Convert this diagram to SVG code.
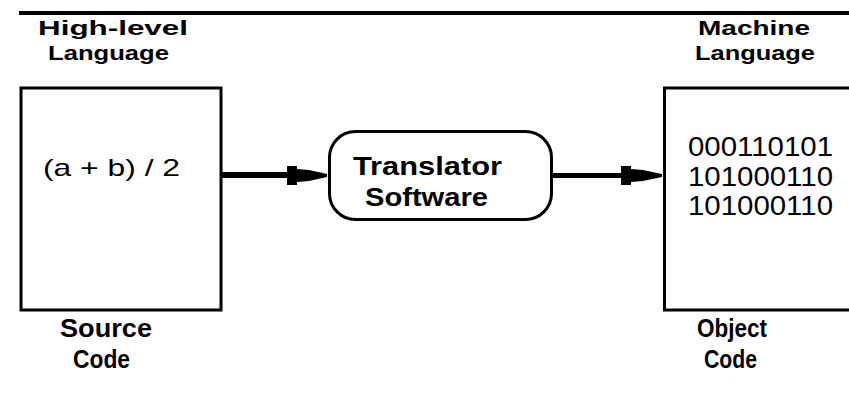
<svg xmlns="http://www.w3.org/2000/svg" width="849" height="403" viewBox="0 0 849 403">
  <style>
    .label { font-family: "Liberation Sans", "DejaVu Sans", sans-serif; font-weight: bold; fill: #000; }
    .code { font-family: "Liberation Sans", "DejaVu Sans", sans-serif; fill: #000; }
    .box { fill: #fff; stroke: #000; }
    .wire { stroke: #000; fill: none; }
    .head { fill: #000; }
  </style>
  <rect width="849" height="403" fill="#fff"/>

  <!-- top rule -->
  <rect x="19" y="11" width="830" height="4" fill="#000"/>

  <!-- connectors -->
  <g id="connectors">
    <line class="wire" x1="221" y1="175" x2="300" y2="175" stroke-width="6"/>
    <path class="head" d="M287,166 L297,166 L297,169 L309,170 L327,174 L327,177 L309,181 L297,182 L297,185 L287,185 Z"/>
    <line class="wire" x1="552" y1="175.5" x2="630" y2="175.5" stroke-width="5"/>
    <path class="head" d="M621,166 L631,166 L631,169 L643,170 L662,174 L662,177 L643,181 L631,182 L631,185 L621,185 Z"/>
  </g>

  <!-- source program -->
  <g id="source">
    <text class="label" x="38" y="35" font-size="21" textLength="150" lengthAdjust="spacingAndGlyphs">High-level</text>
    <text class="label" x="48" y="60" font-size="21" textLength="121" lengthAdjust="spacingAndGlyphs">Language</text>
    <rect class="box" x="21" y="88" width="200" height="222" stroke-width="3"/>
    <text class="code" x="43" y="176" font-size="24" textLength="137" lengthAdjust="spacingAndGlyphs">(a + b) / 2</text>
    <text class="label" x="60" y="337" font-size="25" textLength="92" lengthAdjust="spacingAndGlyphs">Source</text>
    <text class="label" x="73" y="368" font-size="25" textLength="57" lengthAdjust="spacingAndGlyphs">Code</text>
  </g>

  <!-- translator -->
  <g id="translator">
    <rect class="box" x="329.5" y="131.5" width="222" height="88" rx="26" ry="26" stroke-width="3"/>
    <text class="label" x="353" y="175" font-size="25" textLength="149" lengthAdjust="spacingAndGlyphs">Translator</text>
    <text class="label" x="365" y="206" font-size="25" textLength="123" lengthAdjust="spacingAndGlyphs">Software</text>
  </g>

  <!-- object program -->
  <g id="object">
    <text class="label" x="698" y="35" font-size="21" textLength="112" lengthAdjust="spacingAndGlyphs">Machine</text>
    <text class="label" x="695" y="60" font-size="21" textLength="120" lengthAdjust="spacingAndGlyphs">Language</text>
    <rect class="box" x="664.5" y="88" width="200" height="222" stroke-width="3"/>
    <text class="code" x="688" y="156" font-size="27" textLength="145" lengthAdjust="spacingAndGlyphs">000110101</text>
    <text class="code" x="688" y="186" font-size="27" textLength="145" lengthAdjust="spacingAndGlyphs">101000110</text>
    <text class="code" x="688" y="215" font-size="27" textLength="145" lengthAdjust="spacingAndGlyphs">101000110</text>
    <text class="label" x="697" y="337" font-size="25" textLength="70" lengthAdjust="spacingAndGlyphs">Object</text>
    <text class="label" x="704" y="368" font-size="25" textLength="53" lengthAdjust="spacingAndGlyphs">Code</text>
  </g>
</svg>
